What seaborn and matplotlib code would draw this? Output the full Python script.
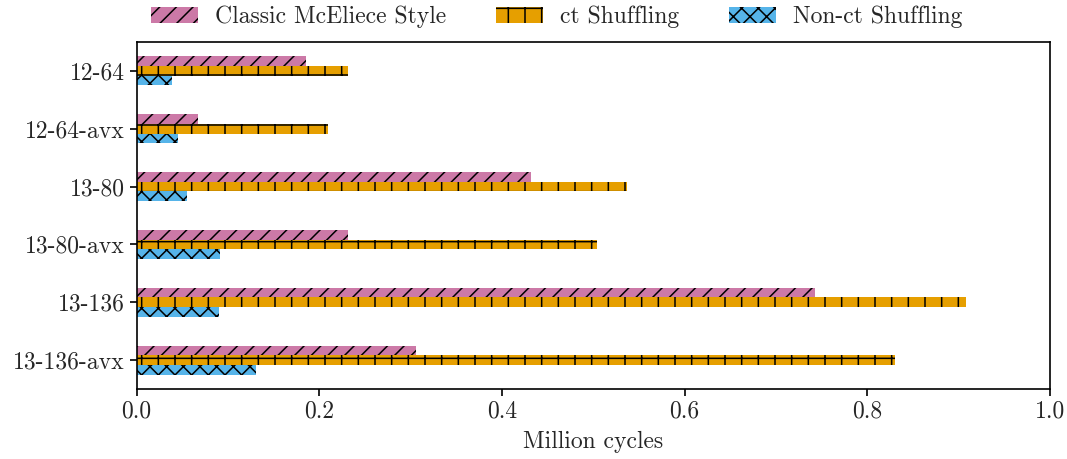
import matplotlib
matplotlib.use("Agg")
import matplotlib.pyplot as plt
import seaborn as sns
import pandas as pd

# Parameter sets
categories = ["12-64", "12-64-avx", "13-80", "13-80-avx", "13-136", "13-136-avx"]

# Runtime in million cycles for each implementation variant
classic_style = [0.185, 0.067, 0.432, 0.232, 0.743, 0.306]
ct_shuffling = [0.231, 0.210, 0.537, 0.504, 0.908, 0.830]
non_ct_shuffling = [0.039, 0.045, 0.055, 0.091, 0.090, 0.131]

series_names = ["Classic McEliece Style", "ct Shuffling", "Non-ct Shuffling"]
series_values = [classic_style, ct_shuffling, non_ct_shuffling]
colors = ["#CC79A7", "#E69F00", "#56B4E9"]
hatches = ["//", "+", "xx"]

x_ticks = [0.0, 0.2, 0.4, 0.6, 0.8, 1.0]

rows = []
for name, vals in zip(series_names, series_values):
    for cat, v in zip(categories, vals):
        rows.append({"Parameter set": cat, "Variant": name, "Million cycles": v})
df = pd.DataFrame(rows)

sns.set_theme(style="ticks")
plt.rcParams["font.family"] = ["cmr10", "DejaVu Serif"]
plt.rcParams["axes.unicode_minus"] = False
plt.rcParams["mathtext.fontset"] = "cm"
plt.rcParams["hatch.linewidth"] = 1.1
plt.rcParams["axes.edgecolor"] = "black"
plt.rcParams["axes.linewidth"] = 1.2

FS = 17

fig = plt.figure(figsize=(10.67, 4.59), dpi=100)
ax = fig.add_axes([0.128, 0.1525, 0.856, 0.756])

sns.barplot(
    data=df, y="Parameter set", x="Million cycles", hue="Variant",
    order=categories, hue_order=series_names, palette=colors,
    orient="h", width=0.5, ax=ax, legend=False,
    edgecolor="black", linewidth=0, saturation=1,
)

for container, hatch in zip(ax.containers, hatches):
    for bar in container:
        bar.set_hatch(hatch)

ax.set_xlim(0, 1.0)
ax.set_xticks(x_ticks)
ax.set_xticklabels([f"{t:.1f}" for t in x_ticks])
ax.set_xlabel("Million cycles", fontsize=FS, labelpad=6)
ax.set_ylabel("")
ax.tick_params(axis="both", labelsize=FS, length=5, width=1.2, color="black")
for s in ax.spines.values():
    s.set_visible(True)
    s.set_color("black")

fig.legend(
    ax.containers, series_names, loc="center", ncol=3,
    bbox_to_anchor=(0.522, 0.963), frameon=False, fontsize=FS,
    handlelength=2.0, handleheight=0.7, handletextpad=0.72, columnspacing=2.1,
)

fig.savefig("out.png", dpi=100)
